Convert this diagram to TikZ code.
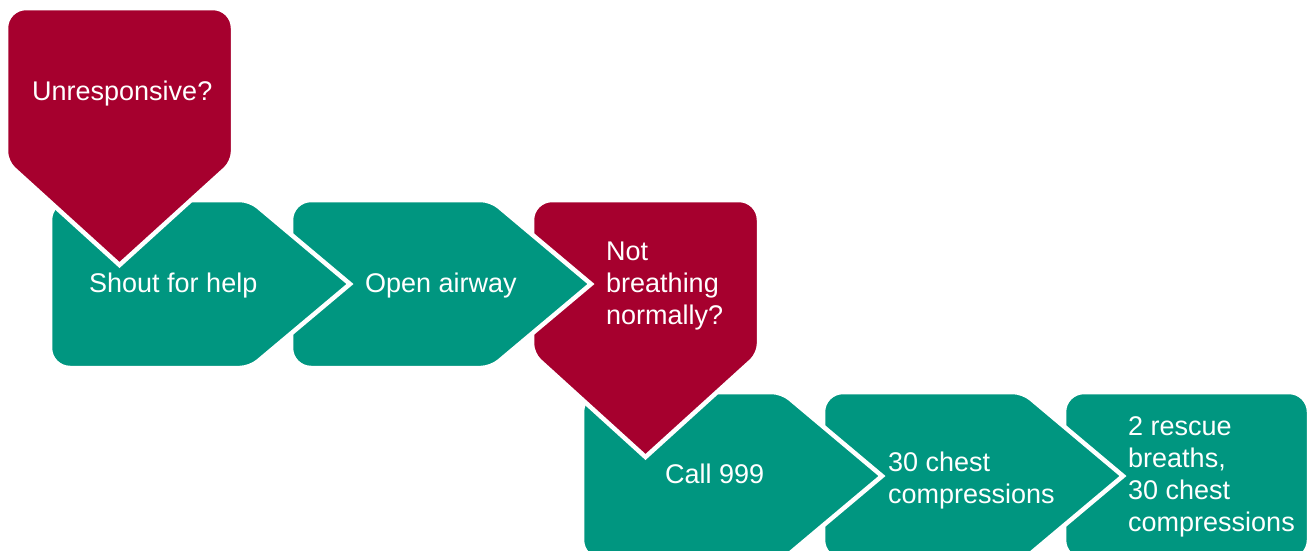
\documentclass[tikz,border=0pt]{standalone}
\usepackage{fontspec}
\setmainfont{Liberation Sans}
\definecolor{cprred}{HTML}{A6002E}
\definecolor{cprgreen}{HTML}{009680}
\tikzset{
  redbox/.style={fill=cprred, draw=white, line width=4.5pt, line join=miter},
  greenbox/.style={fill=cprgreen, draw=white, line width=4.5pt, line join=miter},
  lbl/.style={text=white, inner sep=0pt, anchor=base west, align=left, font=\fontsize{27}{32}\selectfont}
}
\begin{document}
\begin{tikzpicture}[x=1pt,y=-1pt]
\useasboundingbox (0,0) rectangle (1309,550);
\draw [greenbox, rounded corners=20pt] (1064,392) rectangle (1309,560);
\draw [greenbox] (823,476) [rounded corners=20pt] -- (823,392) [rounded corners=10pt] -- (1023,392) [sharp corners] -- (1123,476) [rounded corners=10pt] -- (1023,560) [rounded corners=20pt] -- (823,560) -- cycle;
\draw [greenbox] (582,476) [rounded corners=20pt] -- (582,392) [rounded corners=10pt] -- (782,392) [sharp corners] -- (882,476) [rounded corners=10pt] -- (782,560) [rounded corners=20pt] -- (582,560) -- cycle;
\draw [redbox] (532,280) [rounded corners=20pt] -- (532,200) -- (759,200) [rounded corners=10pt] -- (759,354) [sharp corners] -- (645.5,457) [rounded corners=10pt] -- (532,354) [rounded corners=20pt] -- cycle;
\draw [greenbox] (291,284) [rounded corners=20pt] -- (291,200) [rounded corners=10pt] -- (491,200) [sharp corners] -- (591,284) [rounded corners=10pt] -- (491,368) [rounded corners=20pt] -- (291,368) -- cycle;
\draw [greenbox] (50,284) [rounded corners=20pt] -- (50,200) [rounded corners=10pt] -- (250,200) [sharp corners] -- (350,284) [rounded corners=10pt] -- (250,368) [rounded corners=20pt] -- (50,368) -- cycle;
\draw [redbox] (6,88) [rounded corners=20pt] -- (6,8) -- (233,8) [rounded corners=10pt] -- (233,162) [sharp corners] -- (119.5,265) [rounded corners=10pt] -- (6,162) [rounded corners=20pt] -- cycle;
\node [lbl] (unresp) at (32,100.7) {Unresponsive?};
\node [lbl] (shout) at (89,292) {Shout for help};
\node [lbl] (airway) at (365,292) {Open airway};
\node [lbl] (notbreath) at (606,324) {Not\\breathing\\normally?};
\node [lbl] (call) at (665,483) {Call 999};
\node [lbl] (chest) at (888,503) {30 chest\\compressions};
\node [lbl] (rescue) at (1128,531) {2 rescue\\breaths,\\30 chest\\compressions};
\end{tikzpicture}
\end{document}
